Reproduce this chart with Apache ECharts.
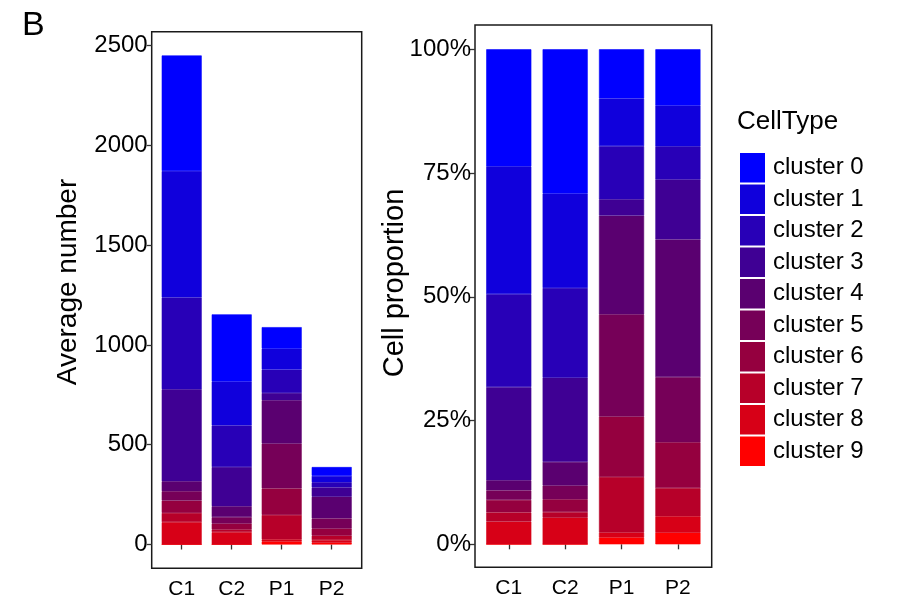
<!DOCTYPE html>
<html>
<head>
<meta charset="utf-8">
<script src="https://cdn.jsdelivr.net/npm/echarts@6/dist/echarts.min.js"></script>
<style>
html,body{margin:0;padding:0;background:#fff;}
#chart{width:902px;height:603px;}
</style>
</head>
<body>
<div id="chart"></div>
<script>
// ---- data ----
const categories = ['C1', 'C2', 'P1', 'P2'];
const clusterNames = ['cluster 0', 'cluster 1', 'cluster 2', 'cluster 3', 'cluster 4',
                      'cluster 5', 'cluster 6', 'cluster 7', 'cluster 8', 'cluster 9'];
const cluster0 = [579, 336, 108, 44];
const cluster1 = [633, 220, 105, 32];
const cluster2 = [460, 209, 117, 26];
const cluster3 = [461, 196, 36, 47];
const cluster4 = [50, 55, 217, 108];
const cluster5 = [47, 32, 225, 51];
const cluster6 = [62, 30, 133, 36];
const cluster7 = [46, 13, 122, 22];
const cluster8 = [112, 62, 11, 13];
const cluster9 = [0, 0, 15, 9];
const countTicks = [0, 500, 1000, 1500, 2000, 2500];
const propTicks = ['0%', '25%', '50%', '75%', '100%'];
const clusterColors = ['#0000FF', '#1000DC', '#2800B7', '#3F0094', '#5A0070',
                       '#760058', '#95003F', '#B70029', '#D70017', '#FF0000'];

const clusterValues = [cluster0, cluster1, cluster2, cluster3, cluster4,
                       cluster5, cluster6, cluster7, cluster8, cluster9];
const totals = categories.map((c, j) => clusterValues.reduce((s, arr) => s + arr[j], 0));

const FONT = '"Liberation Sans", Arial, sans-serif';

const chart = echarts.init(document.getElementById('chart'), null, {renderer: 'canvas'});

const series = [];
// stack bottom-up: cluster 9 first ... cluster 0 on top
for (let i = clusterNames.length - 1; i >= 0; i--) {
  const style = {color: clusterColors[i], borderColor: clusterColors[i], borderWidth: 0.6};
  series.push({
    name: clusterNames[i], type: 'bar', stack: 'count',
    xAxisIndex: 2, yAxisIndex: 2, barWidth: '80%',
    itemStyle: style,
    data: clusterValues[i]
  });
  series.push({
    name: clusterNames[i], type: 'bar', stack: 'prop',
    xAxisIndex: 3, yAxisIndex: 3, barWidth: '80%',
    itemStyle: style,
    data: clusterValues[i].map((v, j) => v / totals[j])
  });
}

const hiddenAxis = (type, gi) => ({type: type, gridIndex: gi, show: false, min: 0, max: 1});
const tickStyle = {show: true, length: 5, lineStyle: {color: '#333', width: 1.3}};

chart.setOption({
  animation: false,
  backgroundColor: '#fff',
  title: [
    {text: 'B', left: 17, top: 4, textStyle: {fontFamily: FONT, fontSize: 34, fontWeight: 'normal', color: '#000'}},
    {text: 'CellType', left: 732, top: 104, textStyle: {fontFamily: FONT, fontSize: 26, fontWeight: 'normal', color: '#000'}}
  ],
  legend: {
    data: clusterNames, orient: 'vertical', left: 740, top: 153,
    itemWidth: 25, itemHeight: 29.5, itemGap: 2, padding: 0,
    icon: 'rect', selectedMode: false,
    itemStyle: {borderWidth: 0},
    textStyle: {fontFamily: FONT, fontSize: 24, color: '#000', padding: [0, 0, 0, 3]}
  },
  grid: [
    {left: 151.7, right: 902 - 361.7, top: 31.7, bottom: 603 - 568.3, show: true, borderColor: '#1a1a1a', borderWidth: 1.5, backgroundColor: 'transparent'},
    {left: 475, right: 902 - 711.7, top: 25, bottom: 603 - 567.3, show: true, borderColor: '#1a1a1a', borderWidth: 1.5, backgroundColor: 'transparent'},
    {left: 156.7, right: 902 - 356.7, top: 45.5, bottom: 603 - 544.5},
    {left: 480.6, right: 902 - 706.1, top: 49.3, bottom: 603 - 544.3}
  ],
  xAxis: [
    hiddenAxis('value', 0), hiddenAxis('value', 1),
    {type: 'category', gridIndex: 2, data: categories, offset: 24,
     axisLine: {show: false}, axisTick: Object.assign({alignWithLabel: true}, tickStyle),
     axisLabel: {fontFamily: FONT, fontSize: 21, color: '#000', margin: 10}},
    {type: 'category', gridIndex: 3, data: categories, offset: 23,
     axisLine: {show: false}, axisTick: Object.assign({alignWithLabel: true}, tickStyle),
     axisLabel: {fontFamily: FONT, fontSize: 21, color: '#000', margin: 10}}
  ],
  yAxis: [
    hiddenAxis('value', 0), hiddenAxis('value', 1),
    {type: 'value', gridIndex: 2, min: countTicks[0], max: countTicks[countTicks.length - 1],
     interval: countTicks[1] - countTicks[0], offset: 5,
     axisLine: {show: false}, axisTick: tickStyle, splitLine: {show: false},
     axisLabel: {fontFamily: FONT, fontSize: 24, color: '#000', margin: 4,
       formatter: (v) => String(Math.round(v))}},
    {type: 'value', gridIndex: 3, min: 0, max: 1, interval: 1 / (propTicks.length - 1), offset: 5.6,
     axisLine: {show: false}, axisTick: tickStyle, splitLine: {show: false},
     axisLabel: {fontFamily: FONT, fontSize: 24, color: '#000', margin: 4,
       formatter: (v) => propTicks[Math.round(v * (propTicks.length - 1))]}}
  ],
  graphic: [
    {type: 'text', x: 68, y: 282, rotation: Math.PI / 2,
     style: {text: 'Average number', font: '28px ' + FONT, fill: '#000', align: 'center', verticalAlign: 'middle'}},
    {type: 'text', x: 395, y: 283, rotation: Math.PI / 2,
     style: {text: 'Cell proportion', font: '29px ' + FONT, fill: '#000', align: 'center', verticalAlign: 'middle'}}
  ],
  series: series
});
</script>
</body>
</html>
